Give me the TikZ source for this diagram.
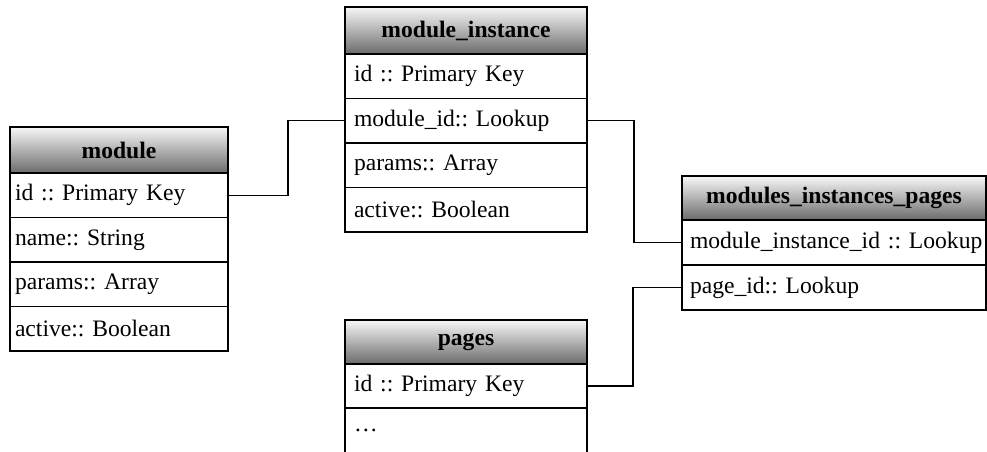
\documentclass[tikz,border=0pt]{standalone}
\usepackage{fontspec}
\setmainfont{Liberation Serif}
\usetikzlibrary{positioning}
\frenchspacing

\begin{document}
\begin{tikzpicture}[
        % one unit = one pixel of the 987 x 452 page, y runs down
        x=1pt, y=-1pt,
        % table title: gray gradient, bold text
        tablehead/.style={
            rectangle,
            draw=black,
            line width=1.6pt,
            top color=white!97!black,
            bottom color=black!58,
            minimum width=#1,
            minimum height=46pt,
            inner sep=0pt,
            outer sep=0pt,
            font=\fontsize{23.6}{28}\selectfont\bfseries
        },
        % table field: white, text flush left
        tablerow/.style={
            rectangle,
            draw=black,
            line width=1.6pt,
            fill=white,
            text width=#1,
            minimum height=44.5pt,
            inner xsep=9pt,
            inner ysep=0pt,
            outer sep=0pt,
            align=left,
            font=\fontsize{23.6}{28}\selectfont
        },
        % connector between two fields
        link/.style={
            draw,
            black,
            line width=1.3pt
        }
    ]
    \useasboundingbox (0,0) rectangle (987,452);

    % --- module ---
    \node[tablehead=218pt, anchor=north west] (mod) at (10,127) {module};
    \node[tablerow=208pt, inner xsep=5pt, below=0pt of mod] (mod_id) {id :: Primary Key};
    \node[tablerow=208pt, inner xsep=5pt, below=0pt of mod_id] (mod_name) {name:: String};
    \node[tablerow=208pt, inner xsep=5pt, below=0pt of mod_name] (mod_params) {params:: Array};
    \node[tablerow=208pt, inner xsep=5pt, below=0pt of mod_params] (mod_active) {active:: Boolean};

    % --- module_instance ---
    \node[tablehead=242pt, minimum height=47pt, anchor=north west] (mi) at (345,7) {module\_instance};
    \node[tablerow=224pt, below=0pt of mi] (mi_id) {id :: Primary Key};
    \node[tablerow=224pt, below=0pt of mi_id] (mi_modid) {module\_id:: Lookup};
    \node[tablerow=224pt, below=0pt of mi_modid] (mi_params) {params:: Array};
    \node[tablerow=224pt, below=0pt of mi_params] (mi_active) {active:: Boolean};

    % --- modules_instances_pages ---
    \node[tablehead=304pt, minimum height=44pt, anchor=north west] (mip) at (682,176) {modules\_instances\_pages};
    \node[tablerow=288pt, inner xsep=8pt, minimum height=45pt, below=0pt of mip] (mip_miid) {\mbox{module\_instance\_id :: Lookup}};
    \node[tablerow=288pt, inner xsep=8pt, minimum height=45pt, below=0pt of mip_miid] (mip_pid) {page\_id:: Lookup};

    % --- pages ---
    \node[tablehead=242pt, minimum height=44pt, anchor=north west] (pg) at (345,320) {pages};
    \node[tablerow=224pt, minimum height=44pt, below=0pt of pg] (pg_id) {id :: Primary Key};
    \node[tablerow=224pt, minimum height=45pt, below=0pt of pg_id] (pg_more) {…};

    % --- connectors ---
    \draw[link] (mod_id.east) -- ++(60,0) |- (mi_modid.west);
    \draw[link] (mi_modid.east) -- ++(47,0) |- (mip_miid.west);
    \draw[link] (mip_pid.west) -- ++(-49,0) |- (pg_id.east);
\end{tikzpicture}
\end{document}
